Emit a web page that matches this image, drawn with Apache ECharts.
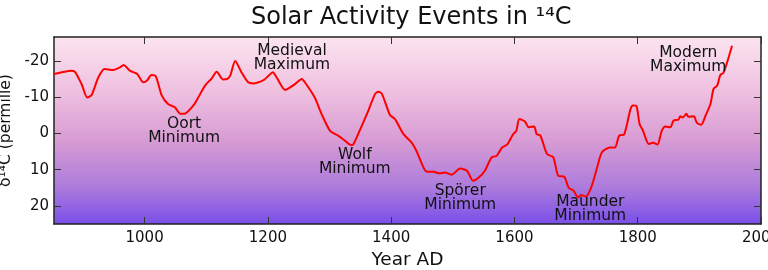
<!DOCTYPE html>
<html>
<head>
<meta charset="utf-8">
<script src="https://cdn.jsdelivr.net/npm/echarts@6/dist/echarts.min.js"></script>
<style>
html,body{margin:0;padding:0;background:#fff;}
#chart{width:768px;height:270px;}
</style>
</head>
<body>
<div id="chart"></div>
<script>
var years = [853,870,880,887,898,907,914,925,935,949,960,966,976,988,998,1004,1011,1018,1028,1038,1049,1058,1064,1079,1087,1098,1109,1117,1127,1134,1139,1147,1157,1168,1176,1193,1201,1208,1214,1228,1236,1244,1255,1260,1276,1287,1301,1314,1325,1335,1339,1350,1363,1374,1379,1385,1398,1406,1420,1433,1442,1450,1457,1469,1478,1487,1498,1512,1523,1533,1542,1552,1563,1571,1580,1588,1598,1603,1608,1617,1623,1632,1636,1642,1653,1663,1671,1681,1688,1696,1703,1708,1716,1726,1734,1742,1755,1763,1770,1778,1788,1792,1798,1803,1808,1818,1825,1832,1839,1845,1853,1858,1866,1869,1873,1879,1882,1891,1896,1903,1910,1918,1923,1929,1934,1939,1945,1953];
var delta14C = [-16.4,-17.0,-17.3,-17.0,-13.5,-9.9,-10.6,-15.5,-17.8,-17.5,-18.2,-18.9,-17.3,-16.4,-14.1,-14.6,-16.1,-15.8,-10.4,-8.1,-7.2,-5.4,-5.4,-7.7,-9.9,-13.2,-15.2,-17.0,-14.9,-15.0,-16.0,-20.0,-16.9,-14.1,-13.8,-14.7,-15.9,-16.9,-15.5,-12.0,-12.7,-13.6,-15.0,-14.1,-9.9,-5.4,-0.7,0.6,2.0,3.2,2.9,-1.2,-6.3,-10.9,-11.5,-10.9,-5.1,-4.0,0.2,2.5,5.2,8.5,10.5,10.6,11.0,10.8,11.4,9.7,10.3,13.1,12.2,10.3,6.6,6.2,3.9,3.1,0.2,-0.7,-4.0,-3.3,-1.7,-1.9,0.2,0.6,5.7,6.6,11.7,12.0,15.0,15.8,17.7,17.0,17.4,14.2,9.5,5.2,3.9,3.9,0.6,0.3,-6.5,-7.7,-7.5,-2.6,-1.0,2.9,2.6,3.1,-0.7,-1.9,-1.7,-3.5,-3.8,-4.7,-4.4,-5.4,-4.6,-4.7,-2.9,-2.4,-4.9,-8.1,-12.3,-13.2,-16.1,-16.7,-19.6,-24.2];
var eventNames = ["Medieval\nMaximum","Oort\nMinimum","Wolf\nMinimum","Spörer\nMinimum","Maunder\nMinimum","Modern\nMaximum"];
var eventYears = [1239,1064,1341,1512,1723,1882];
var eventValues = [-20.8,-0.7,7.9,17.9,20.8,-20.3];
var xTicks = [1000,1200,1400,1600,1800,2000];
var yTicks = [-20,-10,0,10,20];

var FONT = 'DejaVu Sans';
var chart = echarts.init(document.getElementById('chart'), null, {renderer:'canvas'});
var lineData = years.map(function(y,i){return [y, delta14C[i]];});
var marks = eventNames.map(function(n,i){return {name:n, coord:[eventYears[i], eventValues[i]], value:n};});
var axisLineStyle = {color:'#222', width:1.5};
var tickStyle = {color:'#333', width:1};

function xAx(pos, showLabel, name){
  return {
    type:'value', position:pos, min:853, max:2000,
    name: name || '', nameLocation:'middle', nameGap:26,
    nameTextStyle:{fontFamily:FONT, fontSize:18.5, color:'#111'},
    axisLine:{show:true, onZero:false, lineStyle:axisLineStyle},
    axisTick:{show:true, inside:true, length:7, lineStyle:tickStyle,
      customValues: xTicks},
    axisLabel:{show:showLabel, fontFamily:FONT, fontSize:15, color:'#111', margin:7,
      customValues: xTicks, formatter:function(v){return String(v);}},
    splitLine:{show:false}
  };
}
function yAx(pos, showLabel, name){
  return {
    type:'value', position:pos, inverse:true, min:-26.6, max:25,
    name: name || '', nameLocation:'middle', nameGap:37, nameRotate:90,
    nameTextStyle:{fontFamily:FONT, fontSize:15.5, color:'#111'},
    axisLine:{show:true, onZero:false, lineStyle:axisLineStyle},
    axisTick:{show:true, inside:true, length:7, lineStyle:tickStyle,
      customValues: yTicks},
    axisLabel:{show:showLabel, fontFamily:FONT, fontSize:15, color:'#111', margin:5,
      customValues: yTicks, formatter:function(v){return String(v);}},
    splitLine:{show:false}
  };
}

chart.setOption({
  animation:false,
  title:{text:'Solar Activity Events in ¹⁴C', left:246, top:1,
    textStyle:{fontFamily:FONT, fontSize:24, fontWeight:'normal', color:'#111'}},
  grid:{left:54, right:7, top:37, bottom:46, show:true, borderWidth:0,
    outerBoundsMode:'none', containLabel:false,
    backgroundColor:{type:'linear', x:0, y:0, x2:0, y2:1, colorStops:[
      {offset:0, color:'#fce4f0'},
      {offset:0.3, color:'#eebfdf'},
      {offset:0.55, color:'#d89cd4'},
      {offset:0.8, color:'#ad7cdc'},
      {offset:1, color:'#7a4fe8'}
    ]}},
  xAxis:[xAx('bottom', true, 'Year AD'), xAx('top', false)],
  yAxis:[yAx('left', true, 'δ¹⁴C (permille)'), yAx('right', false)],
  series:[{
    type:'line', xAxisIndex:0, yAxisIndex:0, data:lineData,
    showSymbol:false, smooth:0.25,
    lineStyle:{color:'#ff0000', width:2},
    markPoint:{
      symbol:'circle', symbolSize:1, itemStyle:{color:'rgba(0,0,0,0)'},
      label:{show:true, position:'inside', formatter:function(p){return p.name;},
        fontFamily:FONT, fontSize:15.5, lineHeight:14, color:'#111', align:'center', verticalAlign:'middle'},
      data:marks
    }
  }]
});
</script>
</body>
</html>
